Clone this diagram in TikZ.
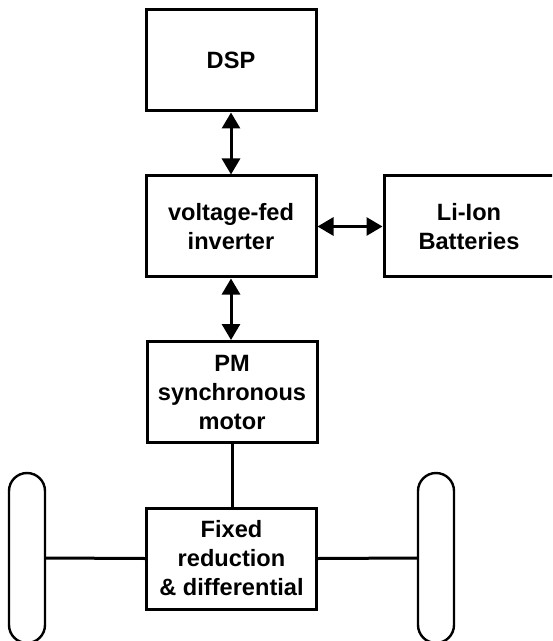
\documentclass[tikz,border=0pt]{standalone}
\usepackage{fontspec}
\setmainfont{Liberation Sans}
\usepackage{tikz}
\usetikzlibrary{arrows.meta}

\tikzset{
 blk/.style={draw,line width=1.5pt,minimum width=85pt,minimum height=50.5pt,inner sep=0pt,
  align=center,font=\fontsize{11.8}{14.5}\selectfont\bfseries},
 wheel/.style={draw,line width=1.2pt,rounded corners=9pt,minimum width=18pt,minimum height=85pt,inner sep=0pt},
 link/.style={line width=1.5pt},
 biarrow/.style={line width=1.5pt,{Triangle[length=8pt,width=9pt]}-{Triangle[length=8pt,width=9pt]}}
}

\begin{document}
\begin{tikzpicture}[x=0.5pt,y=-0.5pt]
\useasboundingbox (0,0) rectangle (552,641);
\clip (0,0) rectangle (552,641);
% blocks
\node [blk] (dsp) at (231,60.5) {DSP};
\node [blk] (inv) at (231,226.5) {voltage-fed\\inverter};
\node [blk] (bat) at (469,226.5) {Li-Ion\\Batteries};
\node [blk] (pm) at (232,392) {PM\\synchronous\\motor};
\node [blk] (diff) at (231.5,558.5) {Fixed\\reduction\\\& differential};
% wheels
\node [wheel] (lw) at (27,558) {};
\node [wheel] (rw) at (436,558) {};
% connections
\draw [biarrow] (dsp) -- (inv);
\draw [biarrow] (inv) -- (bat);
\draw [biarrow] (inv) -- (inv|-pm.north);
\draw [link] (pm.south) -- (pm.south|-diff.north);
\draw [link] (diff.west) -- (lw.east);
\draw [link] (diff.east) -- (rw.west);
\end{tikzpicture}
\end{document}
